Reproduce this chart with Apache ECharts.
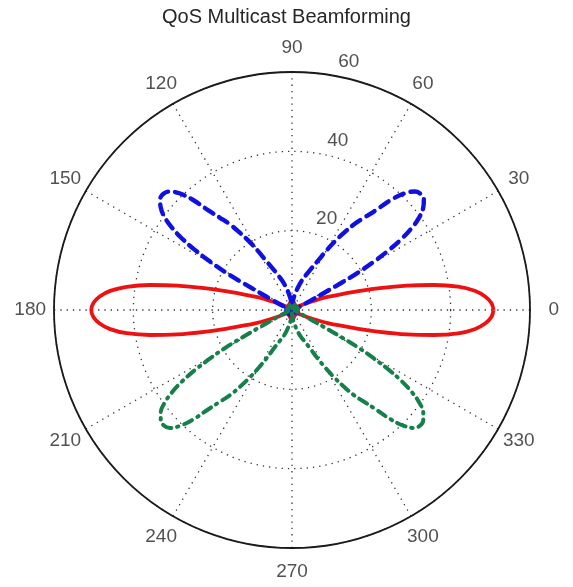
<!DOCTYPE html>
<html>
<head>
<meta charset="utf-8">
<script src="https://cdn.jsdelivr.net/npm/echarts@6/dist/echarts.min.js"></script>
<style>
html,body{margin:0;padding:0;background:#fff;}
#chart{width:573px;height:587px;}
</style>
</head>
<body>
<div id="chart"></div>
<script>
// ---- data ----
const angleTicks = [0, 30, 60, 90, 120, 150, 180, 210, 240, 270, 300, 330];
const ringTicks = [20, 40, 60];

const redAngle = [0,2,4,6,8,10,12,14,16,18,20,22,24,26,28,30,33,36,40,45,50,55,60,65,70,75,80,85,90,95,100,105,110,115,120,125,130,135,140,144,147,150,152,154,156,158,160,162,164,166,168,170,172,174,176,178,180,182,184,186,188,190,192,194,196,198,200,202,204,206,208,210,213,216,220,225,230,235,240,245,250,255,260,265,270,275,280,285,290,295,300,305,310,315,320,324,327,330,332,334,336,338,340,342,344,346,348,350,352,354,356,358,360];
const redRadius = [50.8,50.3,48.8,46.3,42.3,36.3,29.6,22.8,16.7,12.6,9.6,7.0,5.0,3.6,2.6,1.8,1.0,0.6,1.2,1.8,1.4,0.7,0.5,1.0,1.6,1.9,1.5,0.9,0.6,0.9,1.5,1.9,1.6,1.0,0.5,0.7,1.4,1.8,1.2,0.6,1.0,1.8,2.6,3.6,5.0,7.0,9.6,12.6,16.7,22.8,29.6,36.3,42.1,46.1,48.6,50.1,50.6,50.1,48.6,46.1,42.1,36.3,29.6,22.8,16.7,12.6,9.6,7.0,5.0,3.6,2.6,1.8,1.0,0.6,1.2,1.8,1.4,0.7,0.5,1.0,1.6,1.9,1.5,0.9,0.6,0.9,1.5,1.9,1.6,1.0,0.5,0.7,1.4,1.8,1.2,0.6,1.0,1.8,2.6,3.6,5.0,7.0,9.6,12.6,16.7,22.8,29.6,36.3,42.3,46.3,48.8,50.3,50.8];

const blueAngle = [0,5,10,15,20,23,25,27,28,28.8,29.6,30.6,31.8,33,34.5,36,38,40,42,44,46,48,50,52,54,56,58,60,62,65,68,72,76,80,84,88,90,92,96,100,104,108,112,115,118,120,122,124,126,128,130,132,134,136,138,140,142,144,145.5,147,148.2,149.4,150.4,151.2,152,153,155,157,160,165,170,175,180,190,200,210,220,230,240,250,260,270,280,290,300,310,320,330,340,350,360];
const blueRadius = [0.6,1.0,1.5,1.2,1.0,1.8,3.0,5.5,9.0,14.0,19.5,24.0,29.0,33.0,36.8,39.6,42.0,43.4,43.7,43.0,40.9,37.4,32.8,29.5,26.8,23.5,20.4,17.2,14.3,11.6,9.6,7.6,5.5,3.8,2.4,1.2,0.8,1.2,2.4,3.8,5.5,7.6,9.6,11.6,14.3,17.2,20.4,23.5,26.8,29.5,32.8,37.4,40.9,43.0,43.7,43.4,42.0,39.6,36.8,33.0,29.0,24.0,19.5,14.0,9.0,5.5,3.0,1.8,1.0,1.2,1.5,1.0,0.6,1.2,1.8,1.2,0.6,1.0,1.6,1.0,0.5,0.8,0.5,1.0,1.6,1.0,0.6,1.2,1.8,1.2,0.6];

const greenAngle = [0,10,20,30,40,50,60,70,80,90,100,110,120,130,140,150,160,170,180,185,190,195,200,203,205,207,208,208.8,209.6,210.6,211.8,213,214.5,216,218,220,222,224,226,228,230,232,234,236,238,240,242,245,248,252,256,260,264,268,270,272,276,280,284,288,292,295,298,300,302,304,306,308,310,312,314,316,318,320,322,324,325.5,327,328.2,329.4,330.4,331.2,332,333,335,337,340,345,350,355,360];
const greenRadius = [0.6,1.2,1.8,1.2,0.6,1.0,1.6,1.0,0.5,0.8,0.5,1.0,1.6,1.0,0.6,1.2,1.8,1.2,0.6,1.0,1.5,1.2,1.0,1.8,3.0,5.5,9.0,14.0,19.5,24.0,29.0,33.0,36.8,39.6,42.0,43.2,43.5,42.8,40.6,37.0,32.5,29.2,26.5,23.2,20.0,16.8,14.0,10.5,8.6,7.0,5.2,3.6,2.3,1.2,0.8,1.2,2.3,3.6,5.2,7.0,8.6,10.5,14.0,16.8,20.0,23.2,26.5,29.2,32.5,37.0,40.6,42.8,43.5,43.2,42.0,39.6,36.8,33.0,29.0,24.0,19.5,14.0,9.0,5.5,3.0,1.8,1.0,1.2,1.5,1.0,0.6];

// ---- chart ----
const rMax = 60;
const FONT = '"Liberation Sans", Arial, Helvetica, sans-serif';
const pairs = (rs, as) => rs.map((r, i) => [r, as[i]]);
const dotted = { color: '#333333', width: 1.3, type: [1.3, 5] };

const chart = echarts.init(document.getElementById('chart'), null, { renderer: 'canvas' });
chart.setOption({
  animation: false,
  backgroundColor: '#ffffff',
  title: {
    text: 'QoS Multicast Beamforming',
    left: 'center',
    top: 2,
    textStyle: { fontSize: 20, fontWeight: 'normal', color: '#262626', fontFamily: FONT }
  },
  polar: { center: [292, 310], radius: 238 },
  angleAxis: {
    type: 'value', min: 0, max: 360, interval: 30,
    startAngle: 0, clockwise: false,
    axisLine: { show: true, lineStyle: { color: '#1a1a1a', width: 1.8 } },
    axisTick: { show: false },
    axisLabel: { show: false },
    splitLine: { show: true, lineStyle: dotted }
  },
  radiusAxis: {
    type: 'value', min: 0, max: rMax, interval: 20,
    axisLine: { show: false },
    axisTick: { show: false },
    axisLabel: { show: false },
    splitLine: { show: true, lineStyle: dotted }
  },
  series: [
    {
      type: 'line', coordinateSystem: 'polar', name: 'red',
      data: pairs(redRadius, redAngle), symbol: 'none', smooth: 0.4,
      lineStyle: { color: '#ee1111', width: 3.8 }
    },
    {
      type: 'line', coordinateSystem: 'polar', name: 'blue',
      data: pairs(blueRadius, blueAngle), symbol: 'none', smooth: 0.4,
      lineStyle: { color: '#1010e0', width: 4.4, type: [10, 7], cap: 'round' }
    },
    {
      type: 'line', coordinateSystem: 'polar', name: 'green',
      data: pairs(greenRadius, greenAngle), symbol: 'none', smooth: 0.4,
      lineStyle: { color: '#15804a', width: 4, type: [9, 6, 1.5, 6], cap: 'round' }
    },
    {
      type: 'scatter', coordinateSystem: 'polar', silent: true, clip: false,
      symbolSize: 1, itemStyle: { color: 'rgba(0,0,0,0)' },
      data: angleTicks.map(a => ({ value: [rMax * 1.1, a], name: String(a) })),
      label: { show: true, position: 'inside', formatter: '{b}', fontSize: 19, color: '#262626', fontFamily: FONT }
    },
    {
      type: 'scatter', coordinateSystem: 'polar', silent: true, clip: false,
      symbolSize: 1, itemStyle: { color: 'rgba(0,0,0,0)' },
      data: ringTicks.map(v => ({ value: [v + 1, 82], name: String(v) })),
      label: { show: true, position: 'right', distance: 0, offset: [12, 1], verticalAlign: 'bottom', formatter: '{b}', fontSize: 19, color: '#262626', fontFamily: FONT }
    }
  ]
});
</script>
</body>
</html>
